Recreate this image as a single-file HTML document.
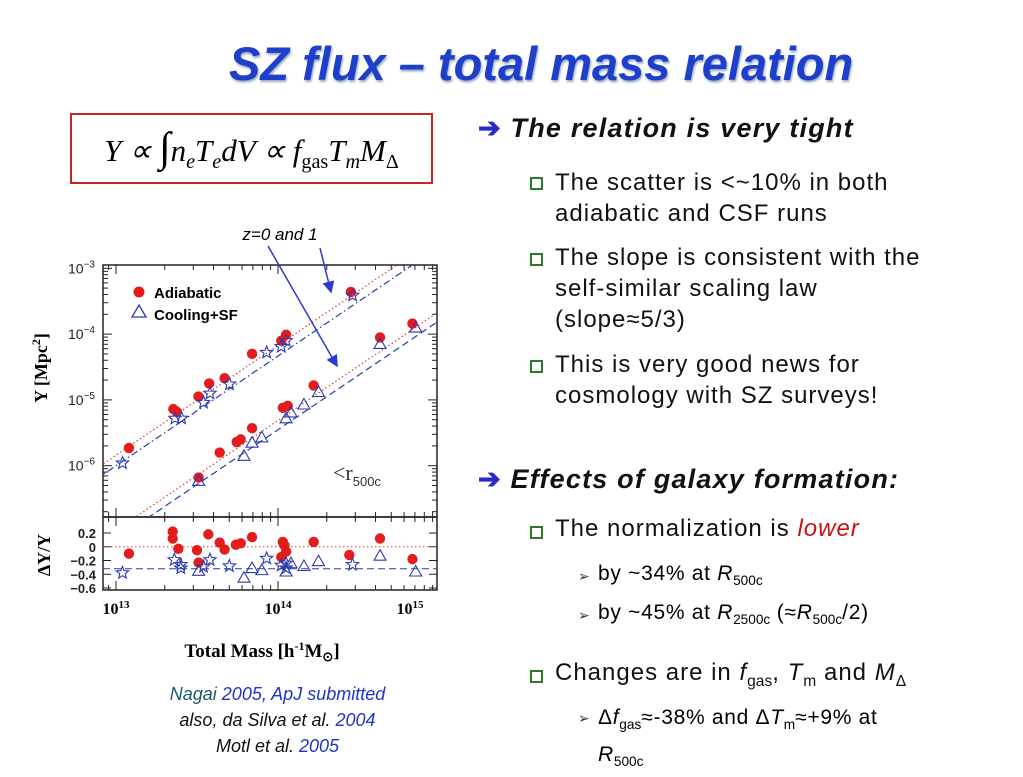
<!DOCTYPE html>
<html><head><meta charset="utf-8"><style>
body{margin:0;width:1023px;height:767px;background:#fff;position:relative;overflow:hidden;font-family:"Liberation Sans",sans-serif}
.a{position:absolute;white-space:nowrap}
.t{font-size:24px;color:#111;letter-spacing:1px}
.h{font-size:27px;font-weight:bold;font-style:italic;color:#111;letter-spacing:1.2px}
.s{font-size:21px;letter-spacing:0.7px}
.arr{color:#2a2acc;font-weight:bold;font-style:normal}
.sq{position:absolute;width:9px;height:9px;border:2px solid #2a7a2a;background:#fff}
.tri{font-size:14px;color:#333}
sub{font-size:65%;letter-spacing:0}
</style></head><body>
<div class="a" style="left:229px;top:36px;font-size:47px;font-weight:bold;font-style:italic;color:#1d3fcc;text-shadow:1px 2px 2px #9ab">SZ flux – total mass relation</div>
<div class="a" style="left:70px;top:113px;width:359px;height:67px;border:2px solid #cc2222;font-family:'Liberation Serif',serif;font-size:31px;font-style:italic;line-height:67px;text-align:center">Y ∝ <span style="font-size:42px;font-style:normal">∫</span>n<sub>e</sub>T<sub>e</sub>dV ∝ f<sub style="font-style:normal">gas</sub>T<sub>m</sub>M<sub style="font-style:normal">Δ</sub></div>

<div class="a h" style="left:478px;top:113px"><span class="arr">➔</span> The relation is very tight</div>
<div class="sq" style="left:530px;top:177px"></div>
<div class="a t" style="left:555px;top:167px;line-height:31px">The scatter is &lt;~10% in both<br>adiabatic and CSF runs</div>
<div class="sq" style="left:530px;top:253px"></div>
<div class="a t" style="left:555px;top:242px;line-height:31px">The slope is consistent with the<br>self-similar scaling law<br>(slope≈5/3)</div>
<div class="sq" style="left:530px;top:360px"></div>
<div class="a t" style="left:555px;top:349px;line-height:31px">This is very good news for<br>cosmology with SZ surveys!</div>

<div class="a h" style="left:478px;top:464px"><span class="arr">➔</span> Effects of galaxy formation:</div>
<div class="sq" style="left:530px;top:526px"></div>
<div class="a t" style="left:555px;top:515px">The normalization is <i style="color:#cc1111">lower</i></div>
<div class="a tri" style="left:578px;top:568px">➢</div>
<div class="a s" style="left:598px;top:562px">by ~34% at <i>R</i><sub>500c</sub></div>
<div class="a tri" style="left:578px;top:607px">➢</div>
<div class="a s" style="left:598px;top:601px">by ~45% at <i>R</i><sub>2500c</sub> (≈<i>R</i><sub>500c</sub>/2)</div>
<div class="sq" style="left:530px;top:670px"></div>
<div class="a t" style="left:555px;top:659px">Changes are in <i>f</i><sub>gas</sub>, <i>T</i><sub>m</sub> and <i>M</i><sub>Δ</sub></div>
<div class="a tri" style="left:578px;top:710px">➢</div>
<div class="a s" style="left:598px;top:703px;line-height:30px">Δ<i>f</i><sub>gas</sub>≈-38% and Δ<i>T</i><sub>m</sub>≈+9% at<br><i>R</i><sub>500c</sub></div>

<div class="a" style="left:130px;top:681px;width:295px;text-align:center;font-size:18px;font-style:italic;line-height:26px;color:#111"><span style="color:#1a5a6a">Nagai</span> <span style="color:#2233cc">2005, ApJ submitted</span><br>also, da Silva et al. <span style="color:#2233cc">2004</span><br>Motl et al. <span style="color:#2233cc">2005</span></div>

<svg id="chart" width="1023" height="767" style="position:absolute;left:0;top:0" xmlns="http://www.w3.org/2000/svg"></svg>
<script>
// Data (log10 M [h^-1 Msun], log10 Y [Mpc^2], residual dY/Y)
const adiZ0M=[13.08,13.354,13.375,13.509,13.575,13.67,13.84,14.02,14.05,14.45];
const adiZ0Y=[-5.73,-5.14,-5.18,-4.95,-4.75,-4.67,-4.30,-4.10,-4.01,-3.36];
const csfZ0M=[13.04,13.364,13.405,13.54,13.58,13.70,13.93,14.02,14.05,14.46];
const csfZ0Y=[-5.96,-5.28,-5.28,-5.04,-4.90,-4.76,-4.28,-4.19,-4.10,-3.41];
const adiZ1M=[13.51,13.64,13.745,13.77,13.84,14.03,14.06,14.22,14.63,14.83];
const adiZ1Y=[-6.18,-5.80,-5.64,-5.60,-5.43,-5.12,-5.09,-4.78,-4.05,-3.84];
const csfZ1M=[13.51,13.79,13.84,13.90,14.05,14.08,14.16,14.25,14.63,14.85];
const csfZ1Y=[-6.23,-5.85,-5.65,-5.57,-5.28,-5.19,-5.07,-4.88,-4.15,-3.90];
const resAdiM=[13.08,13.35,13.35,13.385,13.50,13.51,13.57,13.64,13.67,13.74,13.77,13.84,14.03,14.04,14.05,14.02,14.22,14.44,14.63,14.83];
const resAdiV=[-0.1,0.22,0.12,-0.03,-0.05,-0.23,0.18,0.06,-0.04,0.03,0.05,0.14,0.07,0.02,-0.07,-0.15,0.07,-0.12,0.12,-0.18];
const resStarM=[13.04,13.36,13.40,13.40,13.54,13.58,13.70,13.93,14.02,14.05,14.05,14.46];
const resStarV=[-0.38,-0.19,-0.26,-0.31,-0.29,-0.19,-0.28,-0.17,-0.27,-0.24,-0.31,-0.26];
const resTriM=[13.51,13.79,13.84,13.90,14.05,14.08,14.16,14.25,14.63,14.85];
const resTriV=[-0.35,-0.45,-0.31,-0.34,-0.36,-0.24,-0.28,-0.21,-0.13,-0.36];
const fitSlope=5/3;
const fitAdiZ0=-5.84, fitCsfZ0=-6.00, fitAdiZ1=-6.98, fitCsfZ1=-7.12; // logY at logM=13
const resAdiLevel=0, resCsfLevel=-0.32;
const yTicks=[-3,-4,-5,-6];
const rTicks=[0.2,0,-0.2,-0.4,-0.6];
const rTickLabels=["0.2","0","−0.2","−0.4","−0.6"];
const xDecades=[13,14,15];

const NS="http://www.w3.org/2000/svg";
const svg=document.getElementById('chart');
const X0=103,X1=437,T0=265,T1=517,B1=590;
const xS=m=>116+(m-13)*162;
const yS=l=>268.3+(-3-l)*65.8;
const rS=v=>546.75-v*68.75;
function mk(tag,at,parent){const e=document.createElementNS(NS,tag);for(const k in at)e.setAttribute(k,at[k]);(parent||svg).appendChild(e);return e;}
const defs=mk('defs',{});
const cp=mk('clipPath',{id:'cu'},defs);mk('rect',{x:X0,y:T0,width:X1-X0,height:T1-T0},cp);
const cp2=mk('clipPath',{id:'cl'},defs);mk('rect',{x:X0,y:T1,width:X1-X0,height:B1-T1},cp2);
const mA=mk('marker',{id:'ah',markerWidth:8,markerHeight:8,refX:7,refY:4,orient:'auto'},defs);mk('path',{d:'M0,0 L8,4 L0,8 z',fill:'#2a3ad0'},mA);

let e=mk('rect',{x:X0,y:T0,width:X1-X0,height:T1-T0,fill:'none',stroke:'#222','stroke-width':1.5});

e=mk('rect',{x:X0,y:T1,width:X1-X0,height:B1-T1,fill:'none',stroke:'#222','stroke-width':1.5});


for(const d of [12,13,14]){for(let k=1;k<10;k++){const m=d+Math.log10(k);const x=xS(m);if(x<X0||x>X1)continue;const L=k==1?9:5;
 for(const [ya,yb] of [[T0,T0+L],[T1-L,T1+L],[B1-L,B1]]) mk('line',{x1:x,x2:x,y1:ya,y2:yb,stroke:'#222','stroke-width':1});}}
xDecades.forEach((d,i)=>{const t=mk('text',{x:Math.min(xS(d),410),y:614,'text-anchor':'middle','font-family':'Liberation Serif,serif','font-weight':'bold','font-size':16});
 t.innerHTML='10<tspan dy="-6" font-size="11">'+d+'</tspan>';});
for(let d=-7;d<=-3;d++){for(let k=1;k<10;k++){const l=d+Math.log10(k);const y=yS(l);if(y<T0||y>T1)continue;const L=k==1?9:5;
 mk('line',{x1:X0,x2:X0+L,y1:y,y2:y,stroke:'#222'});mk('line',{x1:X1-L,x2:X1,y1:y,y2:y,stroke:'#222'});}}
yTicks.forEach(d=>{const t=mk('text',{x:95,y:yS(d)+5,'text-anchor':'end','font-family':'Liberation Sans,sans-serif','font-size':14,fill:'#222'});
 t.innerHTML='10<tspan dy="-6" font-size="10">−'+(-d)+'</tspan>';});
rTicks.forEach((v,i)=>{const y=rS(v);mk('line',{x1:X0,x2:X0+8,y1:y,y2:y,stroke:'#222'});mk('line',{x1:X1-8,x2:X1,y1:y,y2:y,stroke:'#222'});
 const t=mk('text',{x:96,y:y+5,'text-anchor':'end','font-family':'Liberation Sans,sans-serif','font-weight':'bold','font-size':13,fill:'#222'});
 t.textContent=rTickLabels[i];});

const gU=mk('g',{'clip-path':'url(#cu)'});
function fit(b,col,dash,name){const l=mk('line',{x1:xS(12.8),y1:yS(b+fitSlope*(-0.2)),x2:xS(15.1),y2:yS(b+fitSlope*2.1),stroke:col,'stroke-width':1.2,'stroke-dasharray':dash},gU);
 }
fit(fitAdiZ0,'#d04040','1.5 2.5','fit-adiabatic-z0');fit(fitCsfZ0,'#2a3ab0','7 3 1.5 3','fit-csf-z0');
fit(fitAdiZ1,'#d04040','1.5 2.5','fit-adiabatic-z1');fit(fitCsfZ1,'#2a3ab0','7 4','fit-csf-z1');
const gL=mk('g',{'clip-path':'url(#cl)'});
e=mk('line',{x1:X0,x2:X1,y1:rS(resAdiLevel),y2:rS(resAdiLevel),stroke:'#d04040','stroke-dasharray':'1.5 2.5'},gL);
e=mk('line',{x1:X0,x2:X1,y1:rS(resCsfLevel),y2:rS(resCsfLevel),stroke:'#2a3ab0','stroke-dasharray':'7 4'},gL);

function dot(x,y,g){const c=mk('circle',{cx:x,cy:y,r:5.2,fill:'#e51c1c'},g);}
function star(x,y,g){let d='';for(let i=0;i<10;i++){const r=i%2?2.8:6.5,a=-Math.PI/2+i*Math.PI/5;d+=(i?'L':'M')+(x+r*Math.cos(a)).toFixed(1)+','+(y+r*Math.sin(a)).toFixed(1);}
 const p=mk('path',{d:d+'z',fill:'none',stroke:'#2a3ab0','stroke-width':1.1},g);}
function tri(x,y,g){const p=mk('path',{d:`M${x},${y-6}L${x+6},${y+4.5}L${x-6},${y+4.5}z`,fill:'none',stroke:'#2a3ab0','stroke-width':1.1},g);}
adiZ0M.forEach((m,i)=>dot(xS(m),yS(adiZ0Y[i]),gU));
adiZ1M.forEach((m,i)=>dot(xS(m),yS(adiZ1Y[i]),gU));
csfZ0M.forEach((m,i)=>star(xS(m),yS(csfZ0Y[i]),gU));
csfZ1M.forEach((m,i)=>tri(xS(m),yS(csfZ1Y[i]),gU));
resAdiM.forEach((m,i)=>dot(xS(m),rS(resAdiV[i]),gL));
resStarM.forEach((m,i)=>star(xS(m),rS(resStarV[i]),gL));
resTriM.forEach((m,i)=>tri(xS(m),rS(resTriV[i]),gL));

e=mk('circle',{cx:139,cy:292,r:5.5,fill:'#e51c1c'});
e=mk('text',{x:154,y:298,'font-family':'Liberation Sans,sans-serif','font-weight':'bold','font-size':15});e.textContent='Adiabatic';
e=mk('path',{d:'M139,305L146,317L132,317z',fill:'none',stroke:'#2a3ab0','stroke-width':1.3});
e=mk('text',{x:154,y:320,'font-family':'Liberation Sans,sans-serif','font-weight':'bold','font-size':15});e.textContent='Cooling+SF';
e=mk('text',{x:333,y:480,'font-family':'Liberation Serif,serif','font-size':22,fill:'#333'});e.innerHTML='&lt;r<tspan dy="6" font-size="13" font-family="Liberation Sans,sans-serif">500c</tspan>';
e=mk('text',{x:0,y:0,transform:'translate(47,368) rotate(-90)','text-anchor':'middle','font-family':'Liberation Serif,serif','font-weight':'bold','font-size':18});e.innerHTML='Y  [Mpc<tspan dy="-7" font-size="12">2</tspan><tspan dy="7">]</tspan>';
e=mk('text',{x:0,y:0,transform:'translate(50,555) rotate(-90)','text-anchor':'middle','font-family':'Liberation Serif,serif','font-weight':'bold','font-size':18});e.textContent='ΔY/Y';
e=mk('text',{x:262,y:657,'text-anchor':'middle','font-family':'Liberation Serif,serif','font-weight':'bold','font-size':19});e.innerHTML='Total Mass [h<tspan dy="-7" font-size="12">-1</tspan><tspan dy="7">M</tspan><tspan dy="4" font-size="13">⊙</tspan><tspan dy="-4">]</tspan>';
e=mk('text',{x:280,y:240,'text-anchor':'middle','font-family':'Liberation Sans,sans-serif','font-style':'italic','font-size':17});e.textContent='z=0 and 1';
e=mk('line',{x1:320,y1:248,x2:331,y2:292,stroke:'#2a3ad0','stroke-width':1.5,'marker-end':'url(#ah)'});
e=mk('line',{x1:268,y1:246,x2:337,y2:366,stroke:'#2a3ad0','stroke-width':1.5,'marker-end':'url(#ah)'});
</script>
</body></html>
